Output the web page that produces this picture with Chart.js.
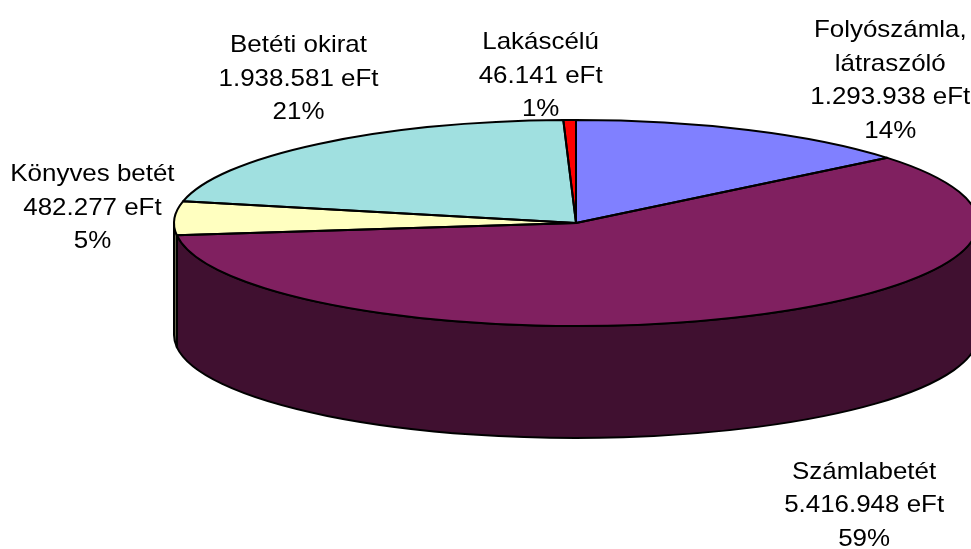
<!DOCTYPE html>
<html>
<head>
<meta charset="utf-8">
<title>Betétállomány</title>
<script src="https://cdn.jsdelivr.net/npm/chart.js@4.4.1/dist/chart.umd.min.js"></script>
<style>
  html, body { margin: 0; padding: 0; background: #fff; }
  canvas { display: block; }
</style>
</head>
<body>
<canvas id="pieChart" width="971" height="549"></canvas>
<script>
// data
const categories = [['Folyószámla,', 'látraszóló'], 'Számlabetét', 'Könyves betét', 'Betéti okirat', 'Lakáscélú'];
const amounts = [1293938, 5416948, 482277, 1938581, 46141];
const unit = 'eFt';

// styles
const sliceColors = ['#8080FF', '#802060', '#FFFFC0', '#A0E0E0', '#FF0000'];
const RX = 402, RY = 103, DEPTH = 112;   // tilted pie look
const LINE_H = 33.5;
const TEXT_STRETCH = 1.08;               // excel text runs a bit wide
// label offset from the slice rim point
const labelShift = [[142, -49], [131, 76], [-82, -10], [-20, -65], [-29, -44]];

function darken(hex) {
    const n = parseInt(hex.slice(1), 16);
    const r = (n >> 16) >> 1, g = ((n >> 8) & 255) >> 1, b = (n & 255) >> 1;
    return `rgb(${r},${g},${b})`;
}

function fmt(v) {
    return String(v).replace(/\B(?=(\d{3})+(?!\d))/g, '.');
}

function tilt(ctx, cx, cy, r) {
    ctx.translate(cx, cy);
    ctx.scale(RX / r, RY / r);
    ctx.translate(-cx, -cy);
}

const pie3d = {
    id: 'pie3d',
    beforeDatasetsDraw(chart) {
        const ctx = chart.ctx;
        const arcs = chart.getDatasetMeta(0).data;
        const cx = arcs[0].x, cy = arcs[0].y, r = arcs[0].outerRadius;

        // front wall of the pie
        ctx.lineWidth = 2;
        ctx.strokeStyle = '#000';
        ctx.lineJoin = 'round';
        arcs.forEach((arc, i) => {
            const a0 = Math.max(arc.startAngle, 0), a1 = Math.min(arc.endAngle, Math.PI);
            if (a1 <= a0) return;
            ctx.beginPath();
            ctx.ellipse(cx, cy, RX, RY, 0, a0, a1);
            ctx.lineTo(cx + RX * Math.cos(a1), cy + DEPTH + RY * Math.sin(a1));
            ctx.ellipse(cx, cy + DEPTH, RX, RY, 0, a1, a0, true);
            ctx.closePath();
            ctx.fillStyle = darken(sliceColors[i]);
            ctx.fill();
            ctx.stroke();
        });

        // top face gets squashed
        ctx.save();
        tilt(ctx, cx, cy, r);
    },
    afterDatasetsDraw(chart) {
        const ctx = chart.ctx;
        ctx.restore();
        const arcs = chart.getDatasetMeta(0).data;
        const cx = arcs[0].x, cy = arcs[0].y, r = arcs[0].outerRadius;

        // outlines (path built tilted, stroked flat so lines stay even)
        ctx.lineWidth = 2;
        ctx.strokeStyle = '#000';
        ctx.lineJoin = 'round';
        arcs.forEach(arc => {
            ctx.save();
            tilt(ctx, cx, cy, r);
            ctx.beginPath();
            ctx.moveTo(arc.x, arc.y);
            ctx.arc(arc.x, arc.y, arc.outerRadius, arc.startAngle, arc.endAngle);
            ctx.closePath();
            ctx.restore();
            ctx.stroke();
        });

        // labels
        const total = amounts.reduce((s, v) => s + v, 0);
        ctx.font = '24px "Liberation Sans", Arial, sans-serif';
        ctx.textAlign = 'center';
        ctx.textBaseline = 'middle';
        ctx.fillStyle = '#000';
        arcs.forEach((arc, i) => {
            const mid = (arc.startAngle + arc.endAngle) / 2;
            let ax = cx + RX * Math.cos(mid);
            let ay = cy + RY * Math.sin(mid);
            if (Math.sin(mid) > 0) ay += DEPTH;
            const lines = [].concat(chart.data.labels[i],
                fmt(amounts[i]) + ' ' + unit,
                Math.round(amounts[i] / total * 100) + '%');
            const lx = ax + labelShift[i][0], ly = ay + labelShift[i][1];
            lines.forEach((t, k) => {
                ctx.save();
                ctx.translate(lx, ly + (k - (lines.length - 1) / 2) * LINE_H);
                ctx.scale(TEXT_STRETCH, 1);
                ctx.fillText(t, 0, 0);
                ctx.restore();
            });
        });
    }
};

const ctx = document.getElementById('pieChart').getContext('2d');
const chart = new Chart(ctx, {
    type: 'pie',
    data: {
        labels: categories,
        datasets: [{
            data: amounts,
            backgroundColor: sliceColors,
            borderWidth: 0,
            hoverOffset: 0,
            clip: false
        }]
    },
    options: {
        responsive: false,
        animation: false,
        events: [],
        layout: { padding: { left: 181, right: 0, top: 0, bottom: 103 } },
        plugins: {
            legend: { display: false },
            tooltip: { enabled: false }
        }
    },
    plugins: [pie3d]
});
</script>
</body>
</html>
